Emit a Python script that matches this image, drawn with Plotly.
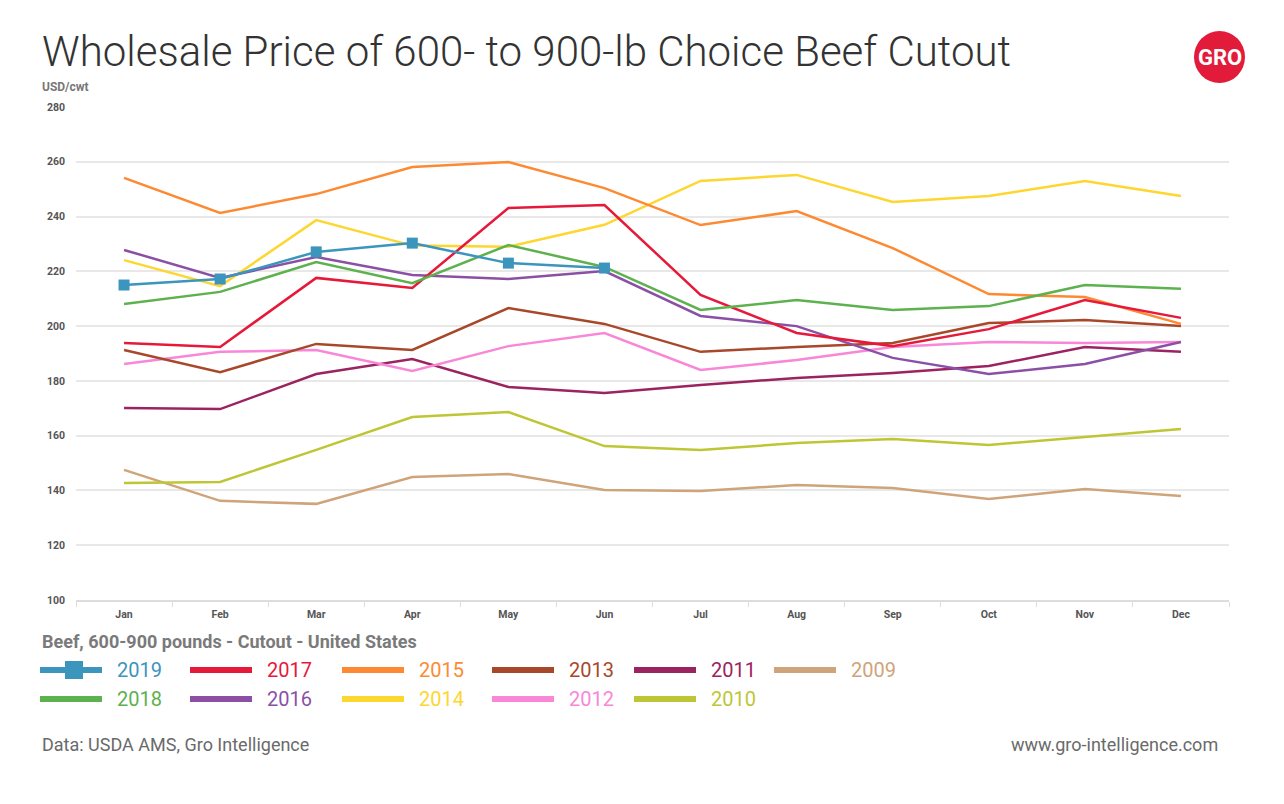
import plotly.graph_objects as go

months = ["Jan", "Feb", "Mar", "Apr", "May", "Jun", "Jul", "Aug", "Sep", "Oct", "Nov", "Dec"]

y2019 = [215.0, 217.2, 227.1, 230.3, 223.0, 221.2]
y2018 = [208.1, 212.5, 223.4, 215.7, 229.6, 221.6, 205.9, 209.5, 205.9, 207.3, 215.0, 213.6]
y2017 = [193.8, 192.4, 217.6, 213.9, 243.1, 244.2, 211.4, 197.5, 192.7, 198.9, 209.5, 203.0]
y2016 = [227.8, 217.6, 225.2, 218.7, 217.2, 220.1, 203.7, 200.0, 188.4, 182.5, 186.2, 194.2]
y2015 = [254.1, 241.3, 248.2, 258.1, 259.9, 250.4, 236.9, 242.0, 228.5, 211.7, 210.6, 200.8]
y2014 = [224.1, 214.6, 238.7, 229.4, 229.0, 237.0, 253.0, 255.2, 245.3, 247.5, 253.0, 247.5]
y2013 = [191.3, 183.2, 193.5, 191.3, 206.6, 200.8, 190.6, 192.4, 193.8, 201.1, 202.2, 200.0]
y2012 = [186.2, 190.6, 191.3, 183.6, 192.7, 197.5, 184.0, 187.6, 192.4, 194.2, 193.8, 194.2]
y2011 = [170.1, 169.7, 182.5, 188.0, 177.8, 175.6, 178.5, 181.1, 182.9, 185.4, 192.4, 190.6]
y2010 = [142.7, 143.1, 154.8, 166.8, 168.6, 156.2, 154.8, 157.3, 158.8, 156.6, 159.5, 162.4]
y2009 = [147.5, 136.2, 135.1, 144.9, 146.0, 140.2, 139.8, 142.0, 140.9, 136.9, 140.5, 138.0]

years = ["2019", "2018", "2017", "2016", "2015", "2014", "2013", "2012", "2011", "2010", "2009"]
series = [y2019, y2018, y2017, y2016, y2015, y2014, y2013, y2012, y2011, y2010, y2009]
colors = ["#3b95bc", "#5db14e", "#e6193b", "#8b50a6", "#fd8a32", "#fdd630",
          "#a8482b", "#f987d7", "#9b2360", "#bec635", "#cfa47b"]

y_ticks = [100, 120, 140, 160, 180, 200, 220, 240, 260, 280]

# page offset (the html body has an 8px margin)
OFF = 8
W, H = 1284 - OFF, 804 - OFF
PL, PR, PT, PB = 76, 1229, 107, 600  # plot area in screen pixels


def px(x):
    return (x - PL) / (PR - PL)


def py(y):
    return (PB - y) / (PB - PT)


fig = go.Figure()

for name, ys, col in reversed(list(zip(years, series, colors))):
    is19 = name == "2019"
    fig.add_trace(go.Scatter(
        x=months[:len(ys)], y=ys, name=name,
        mode="lines+markers" if is19 else "lines",
        line=dict(color=col, width=2.5),
        marker=dict(symbol="square", size=11, color=col) if is19 else None,
        showlegend=False,
    ))

# custom legend (column-major, 6 columns x 2 rows)
col_x = [40, 190, 342, 492, 634, 774]
row_y = [670, 699]
shapes = []
annotations = []
for i, (name, col) in enumerate(zip(years, colors)):
    c, r = i // 2, i % 2
    x0 = col_x[c]
    yy = row_y[r]
    shapes.append(dict(type="line", xref="paper", yref="paper",
                       x0=px(x0), x1=px(x0 + 62), y0=py(yy), y1=py(yy),
                       line=dict(color=col, width=6)))
    if name == "2019":
        shapes.append(dict(type="rect", xref="paper", yref="paper",
                           x0=px(65), x1=px(83), y0=py(yy + 9), y1=py(yy - 9),
                           fillcolor=col, line=dict(width=0)))
    annotations.append(dict(xref="paper", yref="paper", x=px(x0 + 75), y=py(yy),
                            xanchor="left", yanchor="middle", showarrow=False,
                            text=name, font=dict(family="Roboto", size=20, color=col)))

# logo
shapes.append(dict(type="circle", xref="paper", yref="paper",
                   x0=px(1194), x1=px(1245), y0=py(83), y1=py(31),
                   fillcolor="#e31b3a", line=dict(width=0)))
annotations.append(dict(xref="paper", yref="paper", x=px(1219.5), y=py(57),
                        xanchor="center", yanchor="middle", showarrow=False,
                        text="<b>GRO</b>",
                        font=dict(family="Liberation Sans Narrow, Roboto", size=22, color="white")))

annotations += [
    dict(xref="paper", yref="paper", x=px(40), y=py(52),
         xanchor="left", yanchor="middle", showarrow=False,
         text="Wholesale Price of 600- to 900-lb Choice Beef Cutout",
         font=dict(family="Roboto Light, Roboto", size=42, color="#333333", weight=300)),
    dict(xref="paper", yref="paper", x=px(40), y=py(87),
         xanchor="left", yanchor="middle", showarrow=False,
         text="<b>USD/cwt</b>", font=dict(family="Roboto", size=12, color="#777777")),
    dict(xref="paper", yref="paper", x=px(40), y=py(641),
         xanchor="left", yanchor="middle", showarrow=False,
         text="<b>Beef, 600-900 pounds - Cutout - United States</b>",
         font=dict(family="Roboto", size=18, color="#7a7a7a")),
    dict(xref="paper", yref="paper", x=px(40), y=py(744),
         xanchor="left", yanchor="middle", showarrow=False,
         text="Data: USDA AMS, Gro Intelligence",
         font=dict(family="Roboto", size=18, color="#6a6a6a")),
    dict(xref="paper", yref="paper", x=px(1220), y=py(744),
         xanchor="right", yanchor="middle", showarrow=False,
         text="www.gro-intelligence.com",
         font=dict(family="Roboto", size=18, color="#6a6a6a")),
]

fig.update_layout(
    width=W, height=H,
    margin=dict(l=PL - OFF, r=W - (PR - OFF), t=PT - OFF, b=H - (PB - OFF)),
    plot_bgcolor="white", paper_bgcolor="white",
    shapes=shapes, annotations=annotations,
    showlegend=False,
    xaxis=dict(type="category", categoryorder="array", categoryarray=months,
               range=[-0.5, 11.5], tickson="boundaries", ticks="outside", ticklen=5,
               tickcolor="#dddddd", showline=True, linecolor="#dddddd", linewidth=1.5,
               showgrid=False, ticklabelstandoff=4,
               tickfont=dict(family="Roboto", size=10.5, color="#555555", weight="bold")),
    yaxis=dict(range=[100, 280], tickvals=y_ticks, showgrid=True, gridcolor="#e8e8e8", gridwidth=1.5,
               zeroline=False, ticks="",
               tickfont=dict(family="Roboto", size=10.5, color="#555555", weight="bold"),
               ticklabelstandoff=10),
)

fig.write_html("out.html")
